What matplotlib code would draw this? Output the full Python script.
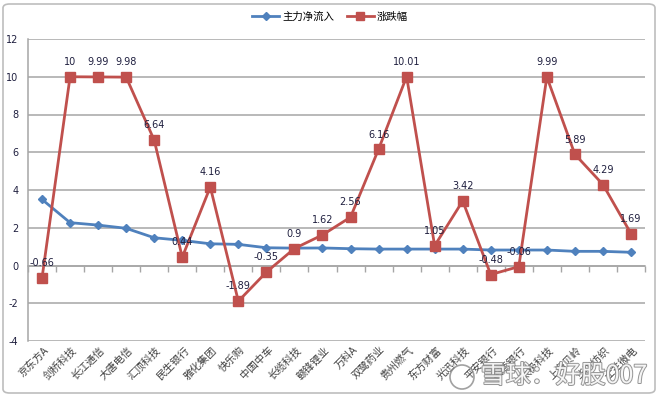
import matplotlib
matplotlib.use("Agg")
import matplotlib.pyplot as plt
from matplotlib.patches import FancyBboxPatch, Ellipse
from matplotlib.lines import Line2D
import matplotlib.patheffects as pe
import numpy as np

plt.rcParams['font.family'] = ['Noto Sans CJK SC', 'DejaVu Sans']

categories = ["京东方A", "剑桥科技", "长江通信", "大唐电信", "汇顶科技", "民生银行",
              "雅化集团", "快乐购", "中国中车", "长缆科技", "赣锋锂业", "万科A",
              "双鹭药业", "贵州燃气", "东方财富", "光迅科技", "平安银行", "招商银行",
              "太极科技", "上海贝岭", "华纺纺织", "士兰微电"]
net_inflow = [3.5, 2.27, 2.14, 1.97, 1.47, 1.33, 1.15, 1.12, 0.94, 0.92, 0.93,
              0.89, 0.87, 0.87, 0.87, 0.87, 0.82, 0.82, 0.82, 0.75, 0.75, 0.70]
pct_change = [-0.66, 10, 9.99, 9.98, 6.64, 0.44, 4.16, -1.89, -0.35, 0.9, 1.62,
              2.56, 6.16, 10.01, 1.05, 3.42, -0.48, -0.06, 9.99, 5.89, 4.29, 1.69]
yticks = [-4, -2, 0, 2, 4, 6, 8, 10, 12]
series_names = ["主力净流入", "涨跌幅"]

blue = "#4F81BD"
red = "#C0504D"

fig = plt.figure(figsize=(6.6, 3.97), dpi=100)
fig.patch.set_facecolor("white")

# outer chart frame
frame = FancyBboxPatch((3/660, 4/397), 652/660, 389/397,
                       boxstyle="round,pad=0,rounding_size=0.01",
                       transform=fig.transFigure, facecolor="none",
                       edgecolor="#BDBDBD", linewidth=1.2, zorder=0)
fig.patches.append(frame)

ax = fig.add_axes([28/660, 56/397, 617/660, 302/397])
ax.set_facecolor("none")
x = np.arange(len(categories))

ax.set_xlim(-0.5, len(categories) - 0.5)
ax.set_ylim(-4, 12)
ax.set_yticks(yticks)
ax.set_yticklabels([str(t) for t in yticks], fontsize=7, color="#1F1F3F",
                   family="DejaVu Sans")
ax.tick_params(axis='y', length=0, pad=7)
for t in yticks:
    ax.axhline(t, color="#A6A6A6", linewidth=1.1, zorder=1)

for s in ["top", "right"]:
    ax.spines[s].set_visible(False)
ax.spines["left"].set_color("#A6A6A6")
ax.spines["left"].set_linewidth(1.1)
ax.spines["bottom"].set_position(("data", 0))
ax.spines["bottom"].set_color("#A6A6A6")
ax.spines["bottom"].set_linewidth(1.1)

ax.set_xticks(np.arange(-0.5, len(categories) + 0.5, 1))
ax.set_xticklabels([])
ax.tick_params(axis='x', direction='out', length=4, color="#A6A6A6", width=1)

for xi, lab in zip(x, categories):
    ax.text(xi + 0.05, -4.2, lab, rotation=45, rotation_mode="anchor",
            ha="right", va="top", fontsize=7.5, color="#404040")

ax.plot(x, net_inflow, color=blue, linewidth=2, marker="D", markersize=4.5,
        zorder=3)
ax.plot(x, pct_change, color=red, linewidth=2, marker="s", markersize=6.5,
        zorder=4)

for xi, v in zip(x, pct_change):
    ax.annotate(f"{v:g}", (xi, v), xytext=(0, 7), textcoords="offset points",
                ha="center", va="bottom", fontsize=7, color="#1F1F3F",
                family="DejaVu Sans", zorder=5)

handles = [Line2D([0], [0], color=blue, lw=2, marker="D", markersize=4),
           Line2D([0], [0], color=red, lw=2, marker="s", markersize=6)]
fig.legend(handles, series_names, loc="center", bbox_to_anchor=(330/660, 1 - 17/397),
           ncol=2, frameon=False, fontsize=7.5, handlelength=2.6,
           columnspacing=1.2, handletextpad=0.3)

# watermark
wm = fig.text(564/660, 1 - 376/397, "雪球：好股007", ha="center", va="center",
              fontsize=18, color="white", alpha=0.9, zorder=10)
wm.set_path_effects([pe.withStroke(linewidth=1.4, foreground="#8A8A8A")])
circ = Ellipse((462/660, 1 - 377/397), 24/660, 24/397, transform=fig.transFigure,
               facecolor="none", edgecolor="#8A8A8A", linewidth=1.2, alpha=0.8,
               zorder=10)
fig.patches.append(circ)

fig.savefig("out.png", dpi=100)
